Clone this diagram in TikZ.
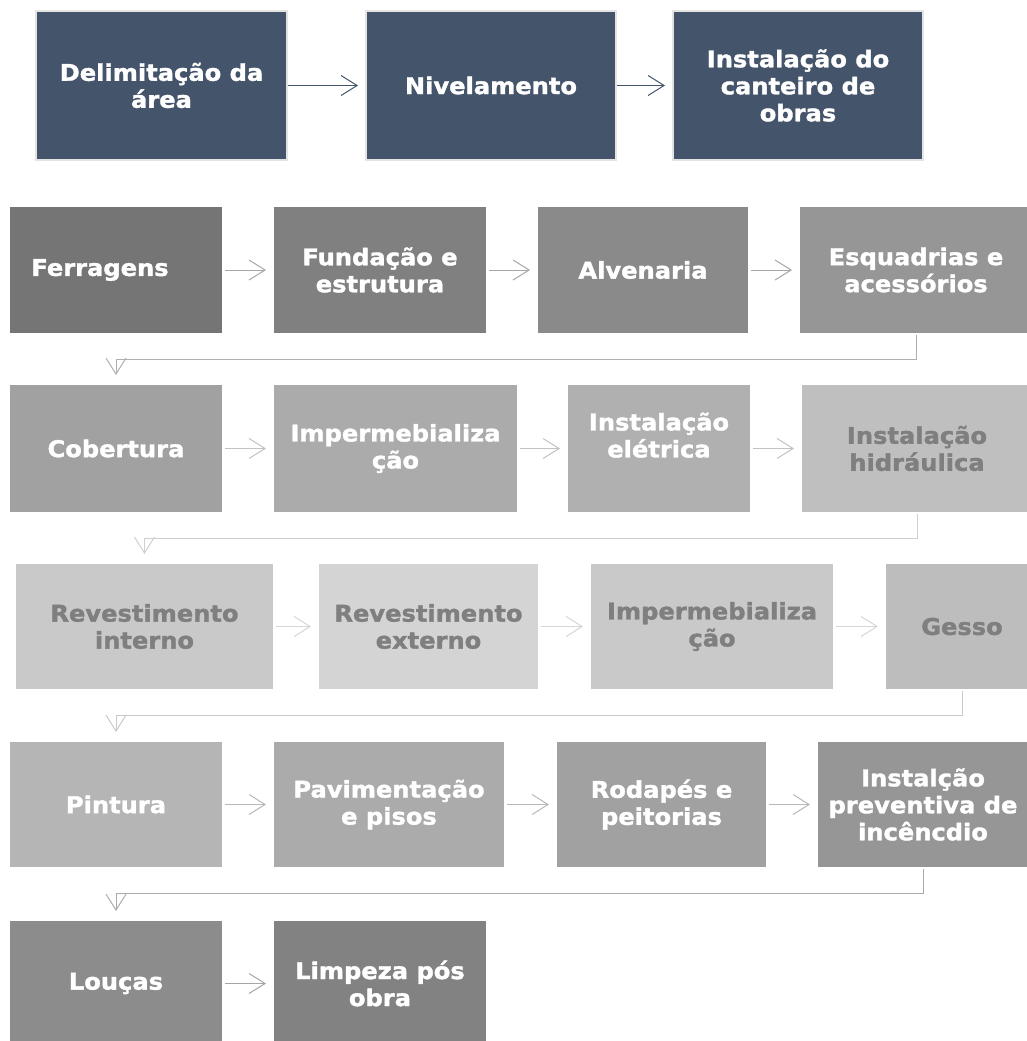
\documentclass[tikz,border=0pt]{standalone}
\usepackage{fontspec}
\setmainfont{DejaVu Sans}[FakeStretch=1.05, BoldFeatures={FakeBold=1.5}]
\usetikzlibrary{arrows.meta}
\definecolor{slate}{HTML}{44546A}
\definecolor{topedge}{HTML}{E4E4E4}
\definecolor{txtgray}{HTML}{7F7F7F}
\begin{document}
\begin{tikzpicture}[x=1pt,y=-1pt,
  box/.style={anchor=north west, inner sep=0pt, outer sep=0pt, align=center,
    font=\fontsize{23pt}{27pt}\selectfont\bfseries, text=white},
  topbox/.style={box, fill=slate, draw=topedge, line width=1.5pt, minimum height=149pt},
  rowbox/.style={box, minimum height=126pt},
  harrow/.style={draw=#1, line width=1pt, -{Straight Barb[length=16pt,width=20pt]},
    shorten <=3pt, shorten >=8pt},
  varrow/.style={draw=#1, line width=1pt, -{Straight Barb[length=16pt,width=20pt]},
    shorten <=2pt, shorten >=10pt},
]
\useasboundingbox (0,0) rectangle (1027,1041);
\clip (0,0) rectangle (1027,1041);

% top row
\node[topbox, minimum width=251pt] (t1) at (36,11) {Delimitação da\\área};
\node[topbox, minimum width=250pt] (t2) at (366,11) {Nivelamento};
\node[topbox, minimum width=250pt] (t3) at (673,11) {Instalação do\\canteiro de\\obras};

% row 1
\node[rowbox, fill=black!54, minimum width=212pt] (f1) at (10,207) {Ferragens\hspace*{32pt}};
\node[rowbox, fill=black!50, minimum width=212pt] (f2) at (274,207) {Fundação e\\estrutura};
\node[rowbox, fill=black!46, minimum width=210pt] (f3) at (538,207) {Alvenaria};
\node[rowbox, fill=black!41, minimum width=232pt] (f4) at (800,207) {Esquadrias e\\acessórios};

% row 2
\node[rowbox, fill=black!37, minimum width=212pt, minimum height=127pt] (c1) at (10,385) {Cobertura};
\node[rowbox, fill=black!33, minimum width=243pt, minimum height=127pt] (c2) at (274,385) {Impermebializa\\ção};
\node[rowbox, fill=black!31, minimum width=182pt, minimum height=127pt] (c3) at (568,385) {Instalação\\elétrica\\\mbox{}};
\node[rowbox, fill=black!25, text=txtgray, minimum width=230pt, minimum height=127pt] (c4) at (802,385) {Instalação\\hidráulica};

% row 3
\node[rowbox, fill=black!21, text=txtgray, minimum width=257pt, minimum height=125pt] (r1) at (16,564) {Revestimento\\interno};
\node[rowbox, fill=black!17, text=txtgray, minimum width=219pt, minimum height=125pt] (r2) at (319,564) {Revestimento\\externo};
\node[rowbox, fill=black!21, text=txtgray, minimum width=242pt, minimum height=125pt] (r3) at (591,564) {Impermebializa\\ção};
\node[rowbox, fill=black!26, text=txtgray, minimum width=152pt, minimum height=125pt] (r4) at (886,564) {Gesso};

% row 4
\node[rowbox, fill=black!29, minimum width=212pt, minimum height=125pt] (p1) at (10,742) {Pintura};
\node[rowbox, fill=black!33, minimum width=230pt, minimum height=125pt] (p2) at (274,742) {Pavimentação\\e pisos};
\node[rowbox, fill=black!37, minimum width=209pt, minimum height=125pt] (p3) at (557,742) {Rodapés e\\peitorias};
\node[rowbox, fill=black!41, minimum width=210pt, minimum height=125pt] (p4) at (818,742) {Instalção\\preventiva de\\incêncdio};

% row 5
\node[rowbox, fill=black!45, minimum width=212pt, minimum height=125pt] (l1) at (10,921) {Louças};
\node[rowbox, fill=black!49, minimum width=212pt, minimum height=125pt] (l2) at (274,921) {Limpeza pós\\obra};

% top arrows
\draw[harrow=slate, shorten <=1pt] (t1.east) -- (t2.west);
\draw[harrow=slate, shorten <=1pt] (t2.east) -- (t3.west);

% row arrows
\draw[harrow=black!35] (f1.east) -- (f2.west);
\draw[harrow=black!35] (f2.east) -- (f3.west);
\draw[harrow=black!35] (f3.east) -- (f4.west);
\draw[varrow=black!31] (f4.south) -- ++(0,-26pt) -| (c1.north);

\draw[harrow=black!24] (c1.east) -- (c2.west);
\draw[harrow=black!24] (c2.east) -- (c3.west);
\draw[harrow=black!24] (c3.east) -- (c4.west);
\draw[varrow=black!19] (c4.south) -- ++(0,-26pt) -| (r1.north);

\draw[harrow=black!16] (r1.east) -- (r2.west);
\draw[harrow=black!16] (r2.east) -- (r3.west);
\draw[harrow=black!16] (r3.east) -- (r4.west);
\draw[varrow=black!21] (r4.south) -- ++(0,-26pt) -| (p1.north);

\draw[harrow=black!28] (p1.east) -- (p2.west);
\draw[harrow=black!28] (p2.east) -- (p3.west);
\draw[harrow=black!28] (p3.east) -- (p4.west);
\draw[varrow=black!33] (p4.south) -- ++(0,-26pt) -| (l1.north);

\draw[harrow=black!35] (l1.east) -- (l2.west);
\end{tikzpicture}
\end{document}
